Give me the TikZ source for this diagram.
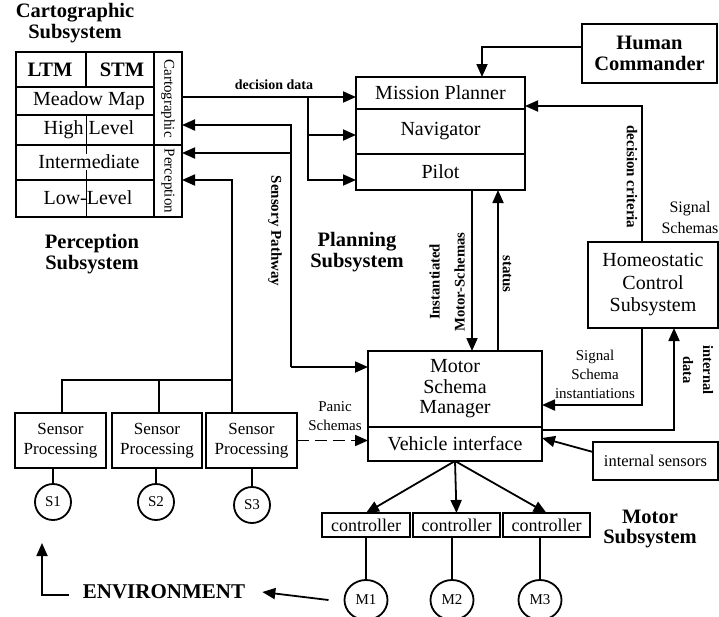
\documentclass[tikz,border=0pt]{standalone}
\usepackage{fontspec}
\setmainfont{Liberation Serif}
\usetikzlibrary{arrows.meta,shapes.geometric}

\begin{document}
\begin{tikzpicture}[x=1pt,y=-1pt,line width=1.8pt,
  >={Triangle[length=13pt,width=11pt]},
  box/.style={draw,rectangle,inner sep=0pt,outer sep=0pt,anchor=north west},
  big/.style={font=\fontsize{20}{20.5}\selectfont,align=center},
  bigb/.style={font=\fontsize{20.5}{20.5}\selectfont\bfseries,align=center},
  small/.style={font=\fontsize{15}{19}\selectfont,align=center},
  smallb/.style={font=\fontsize{15}{19}\selectfont\bfseries,align=center},
  side/.style={font=\fontsize{15}{16}\selectfont,rotate=-90},
  sproc/.style={font=\fontsize{17}{20}\selectfont,align=center},
  ctl/.style={font=\fontsize{18}{20}\selectfont},
  motor/.style={draw,ellipse,inner sep=0pt,outer sep=0pt,minimum width=43pt,minimum height=40pt,font=\fontsize{15}{16}\selectfont},
  sensor/.style={draw,circle,inner sep=0pt,outer sep=0pt,minimum size=36pt,font=\fontsize{15}{16}\selectfont},
]
\fill[white] (0,0) rectangle (719,616);
\useasboundingbox (0,0) rectangle (719,616);

% ---------- cartographic / perception block ----------
\node[box,minimum width=138pt,minimum height=35pt] (rowA) at (16,52) {};
\node[box,minimum width=138pt,minimum height=28pt] (rowB) at (16,87) {};
\node[box,minimum width=138pt,minimum height=30pt] (rowC) at (16,115) {};
\node[box,minimum width=138pt,minimum height=35pt] (rowD) at (16,145) {};
\node[box,minimum width=138pt,minimum height=37pt] (rowE) at (16,180) {};
\node[box,minimum width=28pt,minimum height=93pt] (carto) at (154,52) {};
\node[box,minimum width=28pt,minimum height=72pt] (percep) at (154,145) {};
\draw (rowA.north -| 86,0) -- (rowA.south -| 86,0);
\draw[line width=0.8pt] (rowC.north -| 86,0) -- (rowE.south -| 86,0);

\node[bigb] (ltm) at (50,70) {LTM};
\node[bigb] (stm) at (122,70) {STM};
\node[big] (meadow) at (89,101) {Meadow Map};
\node[big] (high) at (89,130) {High Level};
\node[big,fill=white,inner sep=1pt] (inter) at (89,162) {Intermediate};
\node[big] (low) at (88,198) {Low-Level};
\node[side] (cartoT) at (carto) {Cartographic};
\node[side] (percepT) at (percep) {Perception};

% ---------- subsystem titles ----------
\node[bigb] (cartoTitle) at (75,23) {Cartographic\\Subsystem};
\node[bigb] (perTitle) at (92,254) {Perception\\Subsystem};
\node[bigb] (planTitle) at (357,252) {Planning\\Subsystem};
\node[bigb] (motTitle) at (650,529) {Motor\\Subsystem};

% ---------- planner ----------
\node[box,big,minimum width=169pt,minimum height=32pt] (mp) at (356,77) {Mission Planner};
\node[box,big,minimum width=169pt,minimum height=45pt] (nav) at (356,109) {Navigator};
\node[box,big,minimum width=169pt,minimum height=36pt] (pilot) at (356,154) {Pilot};

\node[box,bigb,font=\fontsize{20.5}{21}\selectfont\bfseries,minimum width=135pt,minimum height=59pt] (hc) at (582,24) {Human\\Commander};
\node[box,big,font=\fontsize{20}{22.5}\selectfont,minimum width=130pt,minimum height=86pt] (homeo) at (588,242) {Homeostatic\\Control\\Subsystem};

% ---------- motor schema manager ----------
\node[box,big,minimum width=174pt,minimum height=76pt] (msm) at (368,351) {Motor\\Schema\\Manager};
\node[box,big,minimum width=174pt,minimum height=34pt] (vi) at (368,427) {Vehicle interface};
\node[box,font=\fontsize{16.5}{18}\selectfont,minimum width=125pt,minimum height=38pt] (isens) at (593,442) {internal sensors};

% ---------- controllers and motors ----------
\node[box,ctl,minimum width=88pt,minimum height=24pt] (c1) at (322,513) {controller};
\node[box,ctl,minimum width=87pt,minimum height=24pt] (c2) at (413,513) {controller};
\node[box,ctl,minimum width=87pt,minimum height=24pt] (c3) at (503,513) {controller};
\node[motor] (m1) at (366,600) {M1};
\node[motor] (m2) at (452,600) {M2};
\node[motor] (m3) at (540,600) {M3};

% ---------- sensors ----------
\node[box,sproc,minimum width=91pt,minimum height=55pt] (sp1) at (15,413) {Sensor\\Processing};
\node[box,sproc,minimum width=90pt,minimum height=55pt] (sp2) at (112,413) {Sensor\\Processing};
\node[box,sproc,minimum width=91pt,minimum height=55pt] (sp3) at (206,413) {Sensor\\Processing};
\node[sensor] (s1) at (53,502) {S1};
\node[sensor] (s2) at (156,502) {S2};
\node[sensor] (s3) at (252,505) {S3};

% ---------- connectors ----------
% decision data to the planner
\coordinate (dd) at (308,97);
\coordinate (ddn) at (308,135);
\coordinate (ddp) at (308,180);
\draw[->] (carto.east |- dd) -- (mp.west |- dd);
\draw[->] (dd) -- (ddp) -- (pilot.west |- ddp);
\draw[->] (ddn) -- (nav.west |- ddn);
\node[smallb,font=\fontsize{14}{19}\selectfont\bfseries] (ddT) at (274,85) {decision data};

% human commander
\coordinate (hcb) at (482,47);
\draw[->] (hc.west |- hcb) -- (hcb) -- (hcb |- mp.north);

% decision criteria
\coordinate (dcb) at (642,106);
\draw[->] (homeo.north -| dcb) -- (dcb) -- (mp.east |- dcb);
\node[smallb,rotate=-90] (dcT) at (632,177) {decision criteria};
\node[small,font=\fontsize{16}{21}\selectfont] (ssT) at (690,218) {Signal\\Schemas};

% instantiated motor schemas and status
\coordinate (ims) at (472,0);
\coordinate (sts) at (498,0);
\draw[->] (pilot.south -| ims) -- (msm.north -| ims);
\draw[->] (msm.north -| sts) -- (pilot.south -| sts);
\node[smallb,font=\fontsize{14.7}{25}\selectfont\bfseries,rotate=90] (imsT) at (447,282) {Instantiated\\Motor-Schemas};
\node[smallb,rotate=-90] (stsT) at (507,274) {status};

% signal schema instantiations
\coordinate (ssi) at (642,405);
\draw[->] (homeo.south -| ssi) -- (ssi) -- (msm.east |- ssi);
\node[small] (ssiT) at (595,374) {Signal\\Schema\\instantiations};

% internal data
\coordinate (idb) at (674,430);
\draw[->] (vi.east |- idb) -- (idb) -- (idb |- homeo.south);
\node[smallb,font=\fontsize{14.5}{20}\selectfont\bfseries,rotate=-90] (idT) at (698,370) {internal\\data};

% internal sensors
\draw[->] ([yshift=9pt]isens.west) -- ([yshift=6pt]vi.east);

% vehicle interface to controllers
\draw[->] (vi.south) -- (c1.north);
\draw[->] (vi.south) -- (c2.north);
\draw[->] (vi.south) -- (c3.north);
\draw (c1.south -| m1.north) -- (m1.north);
\draw (c2.south -| m2.north) -- (m2.north);
\draw (c3.south -| m3.north) -- (m3.north);

% sensors to processing
\draw (sp1.south -| s1.north) -- (s1.north);
\draw (sp2.south -| s2.north) -- (s2.north);
\draw (sp3.south -| s3.north) -- (s3.north);

% low-level feed
\coordinate (fa) at (62,380);
\coordinate (fb) at (159,380);
\coordinate (fc) at (232,380);
\coordinate (ll) at (232,180);
\draw (fa |- sp1.north) -- (fa) -- (fc) -- (fc |- sp3.north);
\draw (fb) -- (fb |- sp2.north);
\draw[->] (fc) -- (ll) -- (percep.east |- ll);

% sensory pathway
\coordinate (ta) at (291,125);
\coordinate (tb) at (291,153);
\coordinate (tc) at (291,367);
\draw[->] (tc) -- (ta) -- (carto.east |- ta);
\draw[->] (tb) -- (percep.east |- tb);
\draw[->] (tc) -- (msm.west |- tc);
\node[smallb,rotate=-90] (spT) at (275,231) {Sensory Pathway};

% panic schemas
\draw[->,dash pattern=on 12pt off 6pt] (sp3.east) -- (sp3.east -| vi.west);
\node[small] (panT) at (335,416) {Panic\\Schemas};

% environment
\node[font=\fontsize{21}{22}\selectfont\bfseries] (env) at (164,592) {ENVIRONMENT};
\coordinate (etop) at (42,543);
\draw[->] ([xshift=-16pt]m1.west) -- ([xshift=13pt]env.east);
\draw[->] ([xshift=-10pt,yshift=-3pt]env.west) -| (etop);
\end{tikzpicture}
\end{document}
